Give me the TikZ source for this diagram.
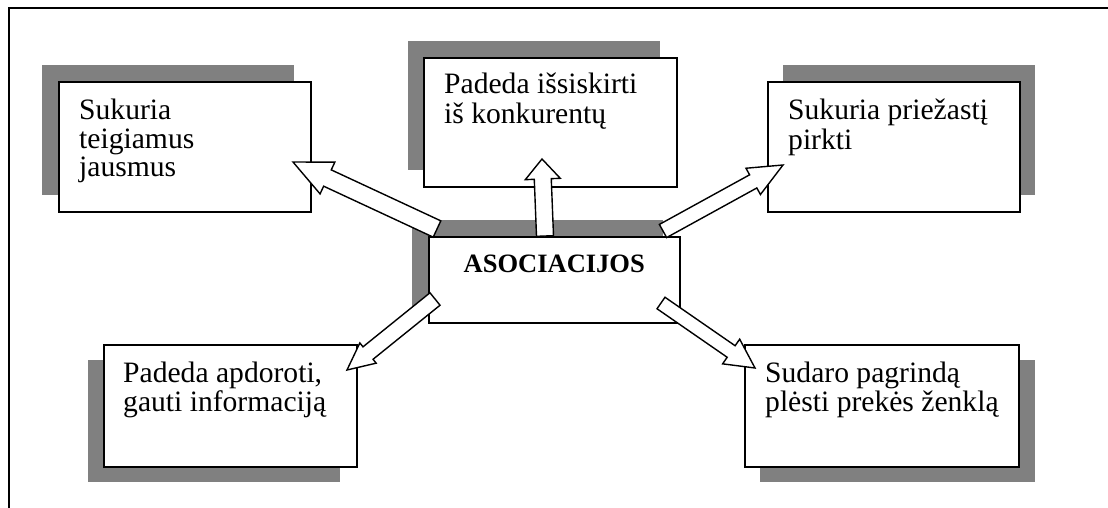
\documentclass[tikz,border=0pt]{standalone}
\usepackage{fontspec}
\setmainfont{Liberation Serif}
\usetikzlibrary{calc}

% block arrow: tail, tip, shaft half width, head half width, head length
\newcommand{\blockarrow}[5]{%
  \path ($(#2)!#5pt!(#1)$) coordinate (ah);
  \draw[arrowbody]
    ($(#1)!#3pt!90:(#2)$) -- ($(ah)!#3pt!90:(#2)$) -- ($(ah)!#4pt!90:(#2)$)
    -- (#2)
    -- ($(ah)!#4pt!-90:(#2)$) -- ($(ah)!#3pt!-90:(#2)$) -- ($(#1)!#3pt!-90:(#2)$)
    -- cycle;}

% lines of a box text, hung from the baseline of the first line
\newcommand{\boxlines}[1]{\begin{tabular}[t]{@{}l@{}}#1\end{tabular}}

\begin{document}
\begin{tikzpicture}[x=1pt,y=-1pt,
  box/.style={draw=black,line width=1.6pt,fill=white,inner sep=0pt,
    anchor=north west},
  shade/.style={fill=gray},
  boxtext/.style={anchor=base west,inner sep=0pt,
    font=\fontsize{29.6}{28.5}\selectfont},
  headtext/.style={anchor=base,inner sep=0pt,
    font=\fontsize{26.5}{29}\selectfont\bfseries},
  arrowbody/.style={draw=black,fill=white,line width=1.4pt,line join=miter},
  frame/.style={draw=black,line width=1.8pt}]

\useasboundingbox (0,0) rectangle (1108,508);

% outer frame (top and left edges lie inside the page)
\draw[frame] (1110,8) -- (9,8) -- (9,510);

% shadows
\fill[shade] (42,65) rectangle (294,195);
\fill[shade] (408,41) rectangle (660,170);
\fill[shade] (412,220) rectangle (663,306);
\fill[shade] (783,65) rectangle (1035,195);
\fill[shade] (88,360) rectangle (340,482);
\fill[shade] (760,360) rectangle (1035,482);

% boxes
\node[box,minimum width=252pt,minimum height=130pt] (b1) at (58,81) {};
\node[box,minimum width=253pt,minimum height=129pt] (b2) at (423,57) {};
\node[box,minimum width=252pt,minimum height=130pt] (b3) at (767,81) {};
\node[box,minimum width=253pt,minimum height=122pt] (b4) at (103,344) {};
\node[box,minimum width=274pt,minimum height=122pt] (b5) at (744,344) {};
\node[box,minimum width=251pt,minimum height=86pt] (assoc) at (428,236) {};

% texts
\node[boxtext] (t1) at ($(b1.north west)+(21,39)$) {\boxlines{Sukuria\\teigiamus\\jausmus}};
\node[boxtext] (t2) at ($(b2.north west)+(21,37)$) {\boxlines{Padeda išsiskirti\\iš konkurentų}};
\node[boxtext] (t3) at ($(b3.north west)+(21,39)$) {\boxlines{Sukuria priežastį\\pirkti}};
\node[boxtext] (t4) at ($(b4.north west)+(20,38)$) {\boxlines{Padeda apdoroti,\\gauti informaciją}};
\node[boxtext] (t5) at ($(b5.north west)+(21,38)$) {\boxlines{Sudaro pagrindą\\plėsti prekės ženklą}};
\node[headtext] (ta) at ($(assoc.north)+(0,36)$) {ASOCIACIJOS};

% arrow ends
\coordinate (s1) at (437,229); \coordinate (e1) at (293,162);
\coordinate (s2) at (545,236); \coordinate (e2) at (542,159);
\coordinate (s3) at (663,231); \coordinate (e3) at (783,165);
\coordinate (s4) at (435,299); \coordinate (e4) at (347,370);
\coordinate (s5) at (661,303); \coordinate (e5) at (755,368);

% arrows from ASOCIACIJOS to the five boxes
\blockarrow{s1}{e1}{9}{17.5}{38}
\blockarrow{s2}{e2}{8.5}{17.5}{20}
\blockarrow{s3}{e3}{7.5}{15}{34}
\blockarrow{s4}{e4}{8}{13}{27}
\blockarrow{s5}{e5}{7}{15}{29}
\end{tikzpicture}
\end{document}
